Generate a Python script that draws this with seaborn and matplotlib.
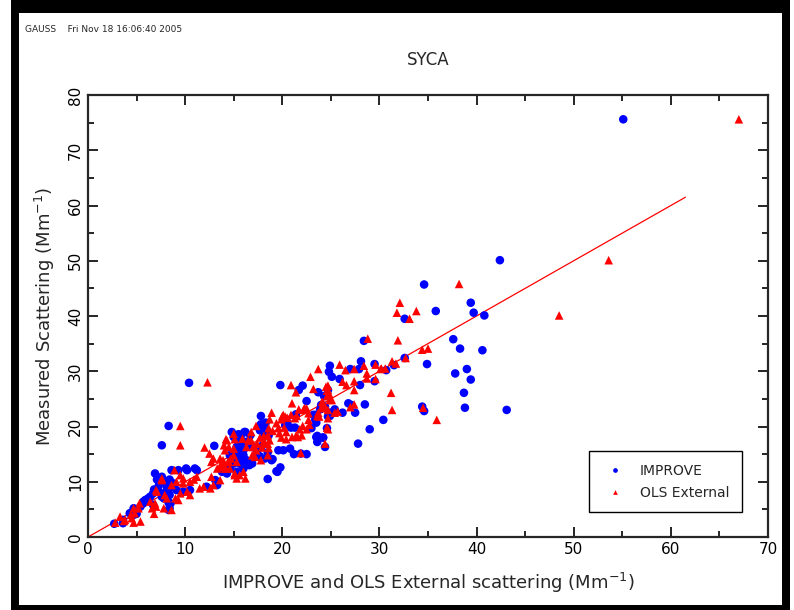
import numpy as np
import pandas as pd
import matplotlib
matplotlib.use('Agg')
import matplotlib.pyplot as plt
from matplotlib.patches import Rectangle
import seaborn as sns

# IMPROVE points (x = reconstructed scattering, y = measured)
improve_x = [55.1, 42.4, 40.8, 34.6, 39.4, 35.8, 39.7, 32.6, 37.6, 38.3, 40.6, 32.6, 31.5, 34.9,
             30.7, 39.0, 37.8, 39.4, 38.7, 34.4, 34.6, 38.8, 43.1, 30.4, 28.4, 28.1, 29.5, 24.9,
             27.0, 27.9, 24.8, 25.1, 25.9, 29.5, 28.0, 22.1, 21.7, 23.7, 24.7, 24.3, 22.5, 24.0,
             24.4, 28.5, 26.8, 27.1, 27.5, 26.2, 25.4, 24.7, 24.9, 23.2, 21.4, 19.8, 10.4, 23.9,
             24.9, 23.4, 23.4, 23.5, 24.6, 20.4, 20.5, 20.3, 20.9, 21.3, 23.0, 23.6, 24.2, 23.6,
             24.4, 19.6, 20.1, 20.8, 21.2, 22.5, 21.9, 17.8, 18.3, 17.8, 17.7, 18.2, 18.6, 18.1,
             17.9, 17.4, 18.5, 19.0, 18.2, 17.7, 16.2, 16.7, 15.7, 16.2, 16.9, 16.0, 15.5, 15.6,
             14.8, 15.0, 15.5, 15.3, 13.0, 15.3, 15.1, 14.6, 15.7, 16.0, 16.3, 15.7, 11.0, 10.1,
             14.6, 16.0, 16.6, 19.8, 8.3, 7.6, 13.8, 14.3, 15.3, 13.1, 13.3, 12.2, 11.2, 10.2,
             9.3, 8.6, 6.9, 7.1, 8.4, 8.3, 8.8, 6.8, 7.2, 8.1, 7.9, 8.4, 7.6, 9.1, 9.8, 10.5,
             5.9, 5.7, 6.7, 8.3, 8.4, 8.3, 4.3, 4.7, 5.0, 3.6, 3.6, 2.7, 29.0, 24.2, 23.5, 27.8,
             19.5, 18.5, 18.9, 19.4, 16.9, 15.0, 15.5, 16.0, 16.1, 4.9, 4.7, 5.4, 5.7, 6.2, 6.0,
             6.4, 6.7, 7.6, 7.3, 8.1, 8.3, 8.2, 7.8, 8.5]
improve_y = [75.6, 50.1, 40.1, 45.7, 42.4, 40.9, 40.6, 39.5, 35.8, 34.1, 33.8, 32.4, 31.1, 31.3,
             30.2, 30.4, 29.6, 28.5, 26.1, 23.6, 22.8, 23.4, 23.0, 21.2, 35.5, 31.8, 31.3, 31.0,
             30.4, 30.4, 29.9, 29.0, 28.6, 28.2, 27.5, 27.4, 26.6, 26.2, 26.6, 25.5, 24.6, 23.9,
             23.6, 24.0, 24.2, 23.9, 22.5, 22.5, 23.1, 21.8, 21.9, 22.1, 22.2, 27.5, 27.9, 23.1,
             22.5, 22.1, 21.2, 20.7, 19.7, 21.3, 20.7, 20.3, 19.8, 19.8, 19.7, 18.3, 18.0, 17.2,
             16.3, 15.7, 15.7, 16.0, 15.0, 15.0, 15.1, 21.9, 20.7, 20.4, 19.3, 19.5, 18.4, 18.1,
             16.5, 15.4, 15.3, 14.1, 14.2, 14.6, 19.0, 18.4, 18.1, 17.2, 16.3, 15.7, 17.5, 16.3,
             19.0, 18.1, 18.6, 17.7, 16.5, 16.3, 15.1, 14.8, 14.8, 13.9, 13.9, 13.2, 12.4, 12.4,
             12.4, 12.4, 13.0, 12.6, 20.1, 16.6, 11.8, 11.5, 11.8, 10.3, 9.4, 9.1, 12.1, 12.1,
             12.1, 12.1, 11.5, 10.4, 10.4, 10.0, 9.7, 8.6, 8.5, 9.1, 8.0, 7.6, 7.3, 8.5, 8.2, 8.5,
             6.7, 6.1, 5.8, 6.2, 5.2, 4.9, 4.3, 4.0, 4.2, 3.1, 2.5, 2.4, 19.5, 18.0, 18.1, 16.9,
             11.8, 10.5, 13.9, 11.9, 13.3, 13.3, 13.9, 14.8, 19.0, 4.7, 5.2, 5.5, 6.4, 7.0, 6.7,
             7.3, 7.9, 10.9, 9.4, 10.0, 8.5, 7.6, 7.0, 6.1]

# OLS External points
ols_x = [67.0, 53.6, 48.5, 38.2, 32.1, 31.8, 33.8, 33.1, 31.9, 34.4, 35.0, 32.7, 31.3, 31.7,
         30.2, 30.6, 31.2, 31.3, 34.5, 35.9, 28.8, 28.4, 29.6, 30.1, 25.9, 23.7, 26.5, 27.4,
         22.9, 28.7, 28.7, 26.2, 26.6, 27.4, 29.6, 27.4, 20.9, 21.4, 23.2, 24.7, 24.7, 24.7,
         24.9, 24.2, 24.1, 21.0, 27.4, 27.0, 25.4, 24.7, 23.6, 22.7, 21.7, 22.2, 22.3, 20.0,
         20.3, 20.5, 12.3, 24.5, 24.6, 24.8, 24.6, 24.1, 24.3, 24.2, 25.1, 23.7, 23.8, 24.7,
         25.7, 24.6, 24.7, 22.7, 22.8, 22.1, 21.8, 22.5, 22.0, 21.4, 21.0, 21.6, 24.4, 20.1,
         19.9, 20.9, 21.3, 21.5, 22.2, 22.5, 19.4, 19.6, 19.7, 20.2, 20.4, 19.9, 20.4, 21.9,
         18.9, 18.7, 18.6, 19.0, 18.5, 18.1, 18.7, 18.5, 18.6, 17.3, 17.7, 18.1, 18.2, 17.4,
         17.9, 17.3, 17.8, 18.5, 16.9, 17.2, 16.8, 16.5, 15.9, 16.3, 17.0, 16.8, 15.0, 15.1,
         14.5, 15.0, 14.3, 14.2, 14.0, 14.1, 12.0, 15.0, 14.7, 14.5, 15.3, 13.9, 13.6, 13.7,
         14.0, 14.2, 9.5, 9.5, 12.5, 12.9, 12.7, 13.6, 13.3, 14.1, 14.4, 14.6, 15.1, 15.3,
         16.2, 12.7, 13.6, 12.9, 12.6, 11.9, 11.5, 8.9, 9.5, 9.8, 7.6, 7.6, 8.6, 9.1, 9.8,
         10.5, 10.9, 11.2, 7.1, 7.9, 8.1, 9.0, 9.5, 9.3, 10.2, 10.5, 6.4, 6.6, 7.8, 8.6, 5.2,
         4.7, 4.5, 4.7, 5.4, 3.3, 2.8, 3.8, 6.8, 3.7, 4.8, 4.4, 5.3, 7.0, 6.9, 7.0, 16.0,
         15.6, 15.1]
ols_y = [75.6, 50.1, 40.1, 45.8, 42.4, 40.6, 40.9, 39.5, 35.6, 33.9, 34.1, 32.4, 31.8, 31.4,
         30.5, 30.5, 26.1, 23.0, 23.4, 21.2, 35.9, 31.0, 31.2, 30.4, 31.2, 30.4, 30.2, 30.4,
         29.0, 29.6, 28.7, 28.1, 27.5, 28.2, 28.6, 26.6, 27.5, 26.2, 26.8, 27.4, 26.6, 25.7,
         24.8, 24.2, 23.6, 24.2, 24.0, 23.5, 22.5, 23.0, 21.9, 22.4, 23.1, 23.0, 23.3, 21.9,
         21.8, 21.6, 28.0, 27.2, 26.5, 26.0, 25.5, 24.5, 23.9, 23.3, 24.8, 22.5, 21.8, 21.5,
         22.7, 19.8, 19.5, 21.2, 20.3, 20.1, 19.5, 19.5, 18.4, 18.3, 18.1, 18.1, 16.9, 22.1,
         21.3, 22.1, 21.5, 21.9, 23.1, 23.3, 20.6, 19.7, 18.8, 19.8, 19.0, 18.0, 17.7, 15.2,
         22.5, 21.3, 19.7, 19.2, 18.4, 18.3, 17.5, 16.9, 16.1, 20.1, 18.0, 17.4, 16.9, 16.9,
         16.2, 15.7, 13.9, 14.8, 14.8, 14.5, 19.0, 17.5, 17.8, 16.3, 16.3, 17.5, 18.7, 17.7,
         16.3, 16.0, 17.5, 17.7, 16.6, 15.7, 16.2, 14.8, 14.2, 13.6, 13.6, 13.9, 14.2, 13.2,
         12.8, 12.4, 20.1, 16.6, 15.1, 14.2, 13.6, 12.7, 12.4, 12.4, 13.6, 12.4, 11.5, 10.6,
         10.6, 10.9, 10.3, 9.4, 8.8, 9.1, 8.8, 12.1, 11.2, 10.6, 10.6, 10.3, 9.4, 10.0, 9.7,
         10.0, 10.4, 10.9, 8.2, 7.6, 7.0, 7.0, 7.9, 6.7, 8.2, 7.6, 6.4, 5.2, 5.2, 4.9, 5.2,
         5.2, 3.4, 2.6, 2.8, 3.7, 2.6, 3.1, 4.2, 2.9, 4.3, 4.0, 6.1, 8.5, 6.1, 5.5, 11.8,
         11.2, 11.2]

# 1:1 reference line
line_x = [0, 61.5]
line_y = [0, 61.5]

df = pd.concat([
    pd.DataFrame({'x': improve_x, 'y': improve_y, 'series': 'IMPROVE'}),
    pd.DataFrame({'x': ols_x, 'y': ols_y, 'series': 'OLS External'}),
], ignore_index=True)

sns.set_style('ticks')
plt.rcParams['font.family'] = ['DejaVu Sans']

fig = plt.figure(figsize=(7.94, 6.10), dpi=100)
ax = fig.add_axes([88/794, 73/610, 680/794, 442/610])

sns.lineplot(x=line_x, y=line_y, color='#ff0000', linewidth=0.9, ax=ax, zorder=1)
sns.scatterplot(data=df, x='x', y='y', hue='series', style='series',
                palette={'IMPROVE': '#0000ff', 'OLS External': '#ff0000'},
                markers={'IMPROVE': 'o', 'OLS External': '^'},
                s=38, linewidth=0, ax=ax, zorder=2)

ax.set_xlim(0, 70)
ax.set_ylim(0, 80)
ax.set_xticks(np.arange(0, 71, 10))
ax.set_yticks(np.arange(0, 81, 10))
ax.set_xticks(np.arange(5, 70, 5), minor=True)
ax.set_yticks(np.arange(5, 80, 5), minor=True)
ax.tick_params(which='both', direction='in', top=True, right=True, width=1.2,
               labelsize=11, colors='black')
ax.tick_params(which='major', length=7)
ax.tick_params(which='minor', length=4)
for lab in ax.get_yticklabels():
    lab.set_rotation(90)
    lab.set_va('center')
for sp in ax.spines.values():
    sp.set_linewidth(1.6)

ax.set_xlabel('IMPROVE and OLS External scattering (Mm$^{-1}$)', fontsize=13, labelpad=10)
ax.set_ylabel('Measured Scattering (Mm$^{-1}$)', fontsize=13, labelpad=8)

leg = ax.legend(loc='lower right', bbox_to_anchor=(0.972, 0.04), frameon=True,
                fancybox=False, edgecolor='black', framealpha=1, fontsize=10,
                markerscale=0.55, handletextpad=0.8, borderpad=0.9, labelspacing=0.6)
leg.get_frame().set_linewidth(1.0)

fig.text(428/794, 1 - 60/610, 'SYCA', ha='center', va='center', fontsize=12)
fig.text(25/794, 1 - 29/610, 'GAUSS    Fri Nov 18 16:06:40 2005', ha='left', va='center', fontsize=6.5)

# black page frame (left, top, right, bottom) in pixels from lower left
for (x0, y0, w, h) in [(11, 0, 8, 610), (11, 597, 779, 13), (782, 0, 8, 610), (11, 0, 779, 5)]:
    fig.patches.append(Rectangle((x0/794, y0/610), w/794, h/610, transform=fig.transFigure,
                                 facecolor='black', edgecolor='none'))

fig.savefig('out.png', dpi=100, facecolor='white')
